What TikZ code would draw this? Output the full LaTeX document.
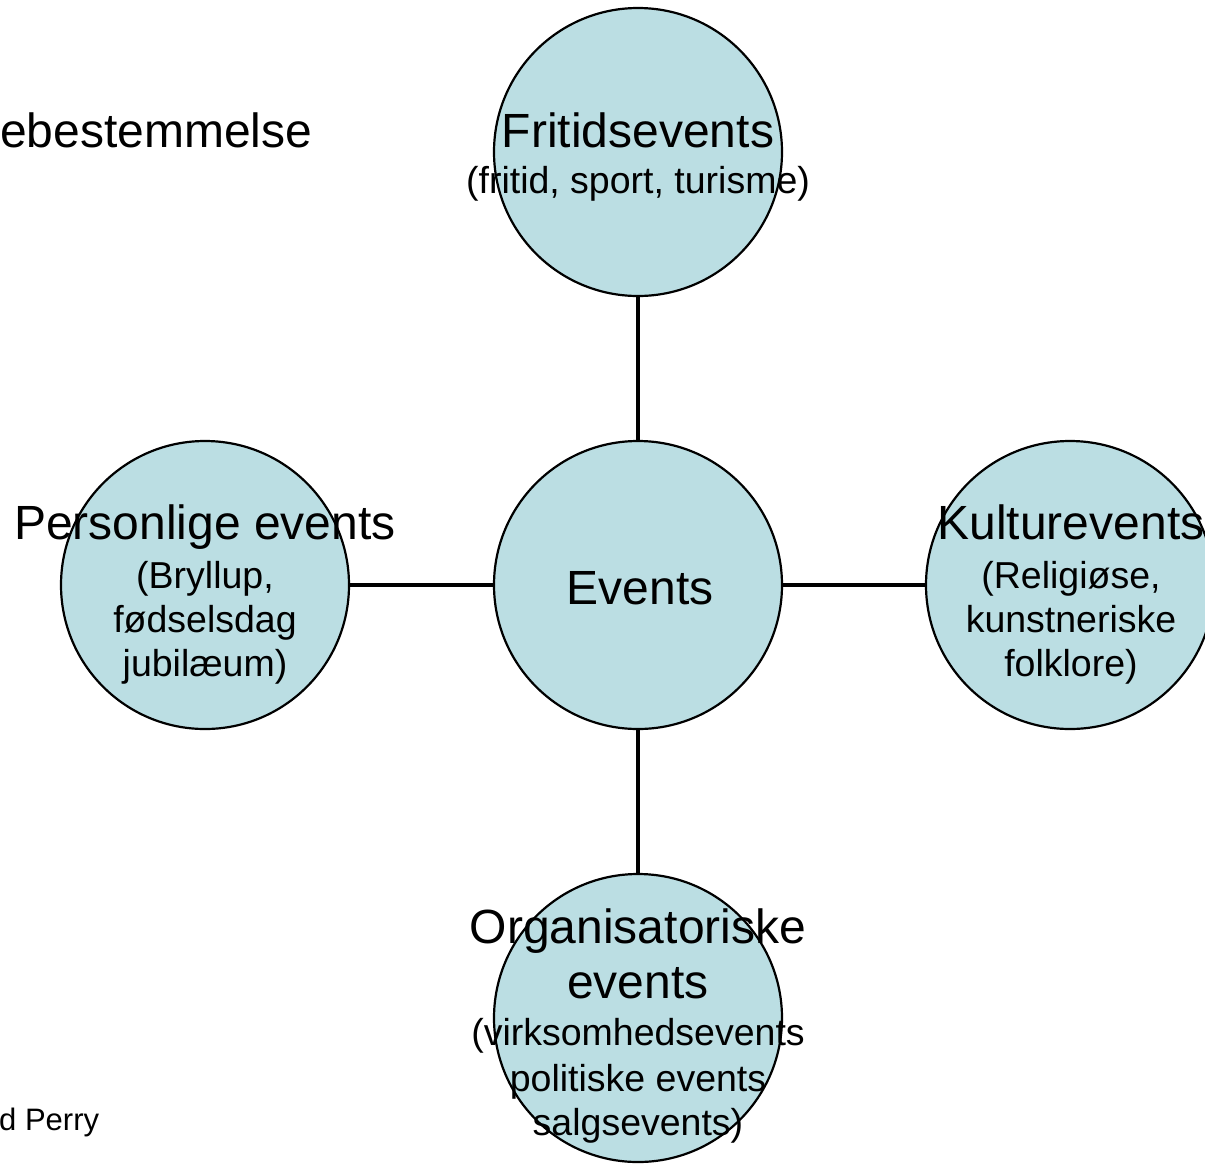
\documentclass[tikz,border=0pt]{standalone}
\usepackage{fontspec}
\setmainfont{Liberation Sans}
\usetikzlibrary{backgrounds}
\definecolor{bubblefill}{RGB}{187,222,227}
\newcommand{\bubblecolor}{bubblefill}
\newcommand{\bubblesize}{288pt}
\newcommand{\linkwidth}{4pt}
\newcommand{\bigtext}{\fontsize{48}{44}\selectfont}
\newcommand{\smalltext}{\fontsize{37.5}{44}\selectfont}

\begin{document}
\begin{tikzpicture}[x=1pt,y=-1pt]
\tikzset{
  bubble/.style={circle,draw,line width=2.2pt,fill=\bubblecolor,minimum size=\bubblesize,inner sep=0pt},
  caption/.style={align=center,inner sep=0pt,font=\smalltext}
}
\useasboundingbox (0,0) rectangle (1205,1163);
\node[bubble] (0) at (638,585) {};
\node[bubble] (1) at (638,152) {};
\node[bubble] (2) at (205,585) {};
\node[bubble] (3) at (1070,585) {};
\node[bubble] (4) at (638,1018) {};
%links
\draw[line width=\linkwidth] (0) -- (1);
\draw[line width=\linkwidth] (0) -- (2);
\draw[line width=\linkwidth] (0) -- (3);
\draw[line width=\linkwidth] (0) -- (4);
%texts
\node[caption] (t0) at (640,588) {\bigtext Events};
\node[caption] (t1) at (638,157) {{\bigtext Fritidsevents}\\[2pt](fritid, sport, turisme)};
\node[caption] (t2) at (205,594) {{\bigtext Personlige events}\\[5pt](Bryllup,\\fødselsdag\\jubilæum)};
\node[caption] (t3) at (1071,594) {{\bigtext Kulturevents}\\[5pt](Religiøse,\\kunstneriske\\folklore)};
\node[caption] (t4) at (638,1026) {{\bigtext Organisatoriske}\\[11pt]{\bigtext events}\\[3pt](virksomhedsevents\\[2pt]politiske events\\salgsevents)};
\node[anchor=base west,inner sep=0pt,font=\bigtext] (head) at (0,147) {ebestemmelse};
\node[anchor=base west,inner sep=0pt,font=\fontsize{31}{36}\selectfont] (src) at (-1,1130) {d Perry};
\end{tikzpicture}
\end{document}
